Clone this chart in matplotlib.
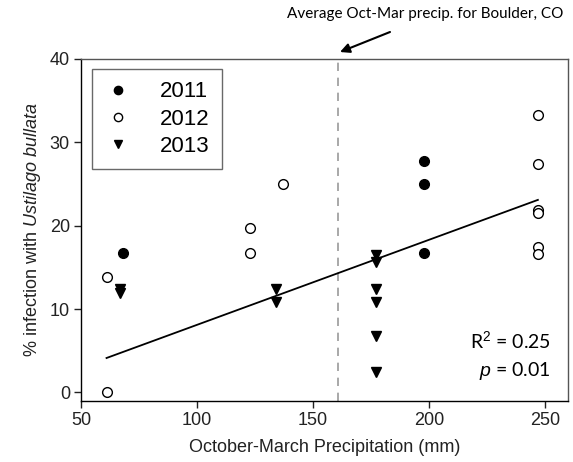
import matplotlib
matplotlib.use("Agg")
import matplotlib.pyplot as plt
import numpy as np

plt.rcParams['font.family'] = ['Liberation Sans', 'DejaVu Sans']
plt.rcParams['mathtext.fontset'] = 'custom'
plt.rcParams['mathtext.it'] = 'Liberation Sans:italic'
plt.rcParams['mathtext.rm'] = 'Liberation Sans'

# Data
x2011 = [68, 198, 198, 198]
y2011 = [16.7, 27.8, 25.0, 16.7]
x2012 = [61, 61, 123, 123, 137, 247, 247, 247, 247, 247, 247]
y2012 = [13.9, 0.0, 19.7, 16.7, 25.0, 33.3, 27.4, 21.9, 21.5, 17.4, 16.6]
x2013 = [67, 67, 134, 134, 177, 177, 177, 177, 177, 177]
y2013 = [12.4, 11.9, 12.4, 10.9, 16.5, 15.6, 12.4, 10.9, 6.8, 2.5]
fit_slope = 0.102
fit_intercept = -2.1
fit_x = [61, 247]
avg_precip = 161
xticks = [50, 100, 150, 200, 250]
yticks = [0, 10, 20, 30, 40]

fig = plt.figure(figsize=(5.73, 4.62), dpi=100)
ax = fig.add_axes([0.1414, 0.1327, 0.9913 - 0.1414, 0.8723 - 0.1327])

ax.axvline(avg_precip, color='#999999', ls=(0, (5, 4)), lw=1.2, zorder=1)
fx = np.array(fit_x)
ax.plot(fx, fit_slope * fx + fit_intercept, color='black', lw=1.3, zorder=2)

h1, = ax.plot(x2011, y2011, 'o', ms=7, mfc='black', mec='black', ls='none', zorder=3)
h2, = ax.plot(x2012, y2012, 'o', ms=7, mfc='white', mec='black', mew=1, ls='none', zorder=3)
h3, = ax.plot(x2013, y2013, 'v', ms=7, mfc='black', mec='black', ls='none', zorder=3)

ax.set_xlim(50, 260)
ax.set_ylim(-1, 40)
ax.set_xticks(xticks)
ax.set_yticks(yticks)
ax.tick_params(direction='out', length=5, width=1, labelsize=13, colors='#222222',
               pad=3)
for s in ['top', 'right']:
    ax.spines[s].set_color('#555555')
for s in ax.spines.values():
    s.set_linewidth(1)

ax.set_xlabel('October-March Precipitation (mm)', fontsize=13, labelpad=7,
              color='#222222')
ax.set_ylabel(r'% infection with $\mathit{Ustilago\ bullata}$', fontsize=13,
              labelpad=5, color='#222222')

leg = ax.legend([h1, h2, h3], ['2011', '2012', '2013'], loc='upper left',
                bbox_to_anchor=(0.0225, 0.97), fontsize=16, frameon=True,
                fancybox=False, edgecolor='#444444', handletextpad=1.3,
                borderpad=0.55, labelspacing=0.28, handlelength=1.2,
                borderaxespad=0, markerscale=0.85)
leg.get_frame().set_linewidth(1)

ax.text(0.965, 0.178, r'R$^2$ = 0.25', transform=ax.transAxes, ha='right',
        va='center', fontsize=14, family=['Lato', 'DejaVu Sans'])
ax.text(0.965, 0.088, r'$\mathit{p}$ = 0.01', transform=ax.transAxes, ha='right',
        va='center', fontsize=14, family=['Lato', 'DejaVu Sans'])

fig.text(425 / 573, 1 - 14 / 462, 'Average Oct-Mar precip. for Boulder, CO',
         ha='center', va='center', fontsize=11, family=['Lato', 'DejaVu Sans'])
ax.annotate('', xy=(340 / 573, 1 - 52 / 462), xycoords='figure fraction',
            xytext=(390 / 573, 1 - 32 / 462), textcoords='figure fraction',
            annotation_clip=False,
            arrowprops=dict(arrowstyle='-|>', color='black', lw=1.5,
                            shrinkA=0, shrinkB=0, mutation_scale=14))

fig.savefig('out.png', dpi=100)
